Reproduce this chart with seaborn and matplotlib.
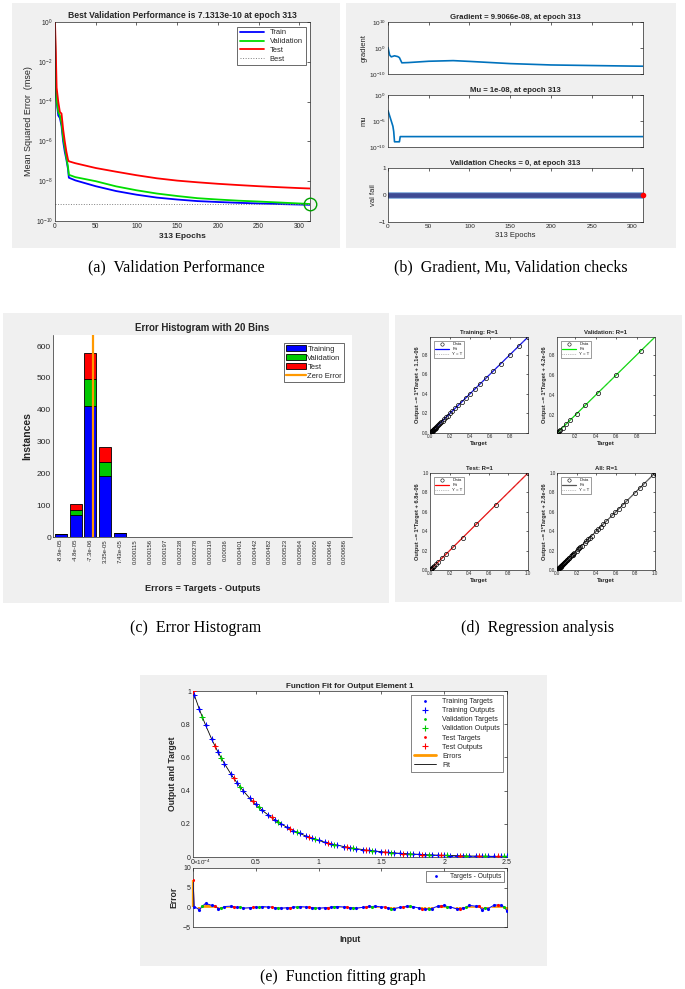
import numpy as np
import matplotlib
matplotlib.use("Agg")
import matplotlib.pyplot as plt
from matplotlib.lines import Line2D
from matplotlib.patches import Patch
from matplotlib.ticker import MultipleLocator, NullLocator
import seaborn as sns

W, H = 685, 989

# (a) training performance (mse per epoch)
perf_epochs = [0, 1, 2, 4, 6, 8, 10, 12, 14, 16, 17, 25, 50, 75, 100, 125,
               150, 175, 200, 225, 250, 275, 300, 313]
perf_train = [0.3, 3e-4, 1e-4, 2e-5, 1.5e-5, 6e-6, 1e-6, 3e-7, 1.2e-7, 4e-8, 1.5e-8,
              1.1e-8, 5.6e-9, 3.2e-9, 2.1e-9, 1.5e-9, 1.2e-9, 1.0e-9, 9e-10,
              8.2e-10, 7.6e-10, 7.1e-10, 6.7e-10, 6.5e-10]
perf_val = [0.5, 5e-4, 1.2e-4, 3e-5, 2e-5, 8e-6, 1.5e-6, 5e-7, 1.5e-7, 5e-8, 2.1e-8,
            1.6e-8, 1e-8, 5.5e-9, 3.5e-9, 2.4e-9, 1.8e-9, 1.4e-9, 1.2e-9,
            1.05e-9, 9.5e-10, 8.5e-10, 7.6e-10, 7.1313e-10]
perf_test = [1.0, 3e-2, 5e-4, 1e-4, 3e-5, 2.5e-5, 4e-6, 1e-6, 3e-7, 1.2e-7, 1e-7,
             8e-8, 4.6e-8, 3e-8, 2e-8, 1.4e-8, 1.07e-8, 8.8e-9, 7.4e-9, 6.4e-9,
             5.6e-9, 5e-9, 4.5e-9, 4.3e-9]
best_epoch = 313
best_perf = 7.1313e-10

# (b) gradient, mu, validation checks
grad_epochs = [0, 2, 4, 8, 12, 14, 17, 25, 50, 80, 100, 150, 200, 250, 300, 313]
grad_vals = [1.5, 2e-3, 4e-4, 1e-3, 5e-4, 2e-4, 2e-6, 2.5e-6, 8e-6, 1.4e-5, 7e-6,
             1e-6, 3e-7, 1.8e-7, 1.1e-7, 9.9066e-8]
mu_epochs = [0, 2, 4, 6, 7, 8, 14, 15, 313]
mu_vals = [1e-3, 1e-4, 1e-5, 1e-6, 1e-7, 1e-9, 1e-9, 1e-8, 1e-8]
vf_epochs = [0, 313]
vf_vals = [0, 0]

# (c) error histogram
bin_labels = ['-8.9e-05', '-4.8e-05', '-7.3e-06', '3.35e-05', '7.43e-05', '0.000115',
              '0.000156', '0.000197', '0.000238', '0.000278', '0.000319', '0.00036',
              '0.000401', '0.000442', '0.000482', '0.000523', '0.000564', '0.000605',
              '0.000646', '0.000686']
hist_train = [9, 70, 412, 193, 13, 0, 0, 0, 0, 0, 0, 0, 0, 0, 0, 0, 0, 0, 0, 1]
hist_val = [0, 15, 85, 43, 0, 0, 0, 0, 0, 0, 0, 0, 0, 0, 0, 0, 0, 0, 0, 0]
hist_test = [0, 20, 80, 47, 0, 0, 0, 0, 0, 0, 0, 0, 0, 0, 0, 0, 0, 0, 0, 0]

# (d)/(e) inputs, targets and errors (errors in units of 1e-4)
train_x = [0.01, 0.05, 0.10, 0.15, 0.20, 0.25, 0.30, 0.35, 0.40, 0.45, 0.50, 0.55,
           0.60, 0.65, 0.70, 0.75, 0.80, 0.85, 0.90, 0.95, 1.00, 1.05, 1.10, 1.15,
           1.20, 1.25, 1.30, 1.35, 1.40, 1.45, 1.50, 1.55, 1.60, 1.65, 1.70, 1.75,
           1.80, 1.85, 1.90, 1.95, 2.00, 2.05, 2.10, 2.15, 2.20, 2.25, 2.30, 2.35,
           2.40, 2.45, 2.50]
train_t = [0.977, 0.891, 0.795, 0.708, 0.631, 0.563, 0.502, 0.447, 0.399, 0.355,
           0.317, 0.282, 0.252, 0.224, 0.200, 0.178, 0.159, 0.142, 0.126, 0.112,
           0.100, 0.089, 0.080, 0.071, 0.063, 0.056, 0.050, 0.045, 0.040, 0.036,
           0.032, 0.028, 0.025, 0.022, 0.020, 0.018, 0.016, 0.014, 0.013, 0.011,
           0.010, 0.009, 0.008, 0.007, 0.006, 0.0056, 0.005, 0.0045, 0.004, 0.0036,
           0.0032]
train_err = [0.2, -0.6, 1.0, 0.5, -0.3, 0.2, 0.3, 0.0, -0.2, -0.1, 0.1, 0.2, 0.1,
             -0.1, -0.2, -0.1, 0.1, 0.2, 0.1, -0.1, -0.2, -0.1, 0.1, 0.2, 0.1, -0.1,
             -0.2, 0.0, 0.3, 0.3, 0.1, -0.2, -0.3, 0.0, 0.3, 0.2, -0.2, -0.5, -0.3,
             0.3, 0.5, 0.1, -0.4, -0.2, 0.5, 0.3, -0.6, -0.3, 0.6, 0.5, -0.9]
val_x = [0.075, 0.225, 0.375, 0.525, 0.675, 0.825, 0.975, 1.125, 1.275, 1.425,
         1.575, 1.725, 1.875, 2.025, 2.175, 2.325, 2.475]
val_t = [0.842, 0.596, 0.422, 0.299, 0.212, 0.150, 0.106, 0.075, 0.053, 0.038,
         0.027, 0.019, 0.013, 0.0095, 0.0067, 0.0048, 0.0034]
val_err = [0.3, -0.2, 0.1, 0.0, -0.2, 0.1, -0.1, 0.2, -0.1, 0.2, -0.3, 0.3, -0.4,
           0.2, 0.0, -0.1, 0.2]
test_x = [0.0, 0.175, 0.325, 0.475, 0.625, 0.775, 0.925, 1.075, 1.225, 1.375,
          1.525, 1.675, 1.825, 1.975, 2.125, 2.275, 2.425]
test_t = [1.000, 0.669, 0.474, 0.335, 0.238, 0.168, 0.119, 0.084, 0.060, 0.042,
          0.030, 0.021, 0.015, 0.0106, 0.0075, 0.0053, 0.0038]
test_err = [7.0, 0.4, 0.2, 0.0, 0.1, -0.1, 0.1, -0.1, 0.1, 0.1, 0.1, 0.1, -0.4,
            0.4, -0.3, 0.4, 0.6]
reg_titles = ['Training: R=1', 'Validation: R=1', 'Test: R=1', 'All: R=1']
reg_offsets = ['1.1e-06', '4.2e-06', '6.8e-06', '2.8e-06']

BLUE, GREEN, RED, ORANGE = '#0000ff', '#00c800', '#ff0000', '#ff9900'
BG = '#f0f0f0'
INK = '#262626'
MLBLUE = '#0072bd'

sns.set_style('white')
plt.rcParams['font.family'] = ['Liberation Sans', 'DejaVu Sans']
plt.rcParams['mathtext.default'] = 'regular'


def rect(l, t, r, b):
    return [l / W, 1 - b / H, (r - l) / W, (b - t) / H]


def background(fig, l, t, r, b):
    bg = fig.add_axes(rect(l, t, r, b), zorder=-5)
    bg.set_facecolor(BG)
    bg.set_xticks([])
    bg.set_yticks([])
    for s in bg.spines.values():
        s.set_visible(False)


def matlab_axes(ax, fs):
    ax.tick_params(direction='in', length=2.5, width=0.5, labelsize=fs, top=True,
                   right=True, colors=INK, pad=1.5)
    ax.tick_params(which='minor', length=0)
    for s in ax.spines.values():
        s.set_linewidth(0.5)
        s.set_color(INK)


def caption(fig, x, y, txt):
    fig.text(x / W, 1 - y / H, txt, family='Liberation Serif', fontsize=11.5,
             ha='center', va='center', color='black')


fig = plt.figure(figsize=(W / 100, H / 100), dpi=100)

# ---------------- (a) ----------------
background(fig, 12, 3, 340, 248)
ax = fig.add_axes(rect(55, 22, 310, 221))
ax.set_yscale('log')
sns.lineplot(x=perf_epochs, y=perf_train, ax=ax, color=BLUE, lw=1.3)
sns.lineplot(x=perf_epochs, y=perf_val, ax=ax, color='#00dd00', lw=1.3)
sns.lineplot(x=perf_epochs, y=perf_test, ax=ax, color=RED, lw=1.3)
ax.axhline(best_perf, ls=':', color='gray', lw=0.7)
ax.axvline(best_epoch, ls=':', color='gray', lw=0.7)
ax.plot([best_epoch], [best_perf], 'o', mfc='none', mec='#00a000', ms=9, mew=1.0,
        clip_on=False, zorder=5)
ax.set_xlim(0, 313)
ax.set_ylim(1e-10, 1)
ax.set_yticks([1e-10, 1e-8, 1e-6, 1e-4, 1e-2, 1])
ax.yaxis.set_minor_locator(NullLocator())
ax.set_xticks(range(0, 301, 50))
matlab_axes(ax, 4.8)
ax.set_title('Best Validation Performance is 7.1313e-10 at epoch 313',
             fontsize=6.2, fontweight='bold', pad=3)
ax.set_ylabel('Mean Squared Error  (mse)', fontsize=6.5, labelpad=2)
ax.set_xlabel('313 Epochs', fontsize=6, fontweight='bold', labelpad=2)
handles = [Line2D([], [], color=BLUE, lw=1.3), Line2D([], [], color='#00dd00', lw=1.3),
           Line2D([], [], color=RED, lw=1.3), Line2D([], [], color='gray', lw=0.7, ls=':')]
leg = ax.legend(handles, ['Train', 'Validation', 'Test', 'Best'], loc='upper right',
                fontsize=5.4, frameon=True, fancybox=False, borderaxespad=0.6,
                handlelength=3.2, labelspacing=0.2, borderpad=0.35)
leg.get_frame().set_edgecolor(INK)
leg.get_frame().set_linewidth(0.6)

# ---------------- (b) ----------------
background(fig, 346, 3, 676, 248)
ax1 = fig.add_axes(rect(388, 22, 643, 74))
ax1.set_yscale('log')
sns.lineplot(x=grad_epochs, y=grad_vals, ax=ax1, color=MLBLUE, lw=1.2)
ax1.set_ylim(1e-10, 1e10)
ax1.set_yticks([1e-10, 1, 1e10])
ax1.yaxis.set_minor_locator(NullLocator())
ax1.set_title('Gradient = 9.9066e-08, at epoch 313', fontsize=5.6, fontweight='bold', pad=2)
ax1.set_ylabel('gradient', fontsize=5.5, labelpad=1)

ax2 = fig.add_axes(rect(388, 95, 643, 147))
ax2.set_yscale('log')
sns.lineplot(x=mu_epochs, y=mu_vals, ax=ax2, color=MLBLUE, lw=1.2)
ax2.set_ylim(1e-10, 1)
ax2.set_yticks([1e-10, 1e-5, 1])
ax2.yaxis.set_minor_locator(NullLocator())
ax2.set_title('Mu = 1e-08, at epoch 313', fontsize=5.6, fontweight='bold', pad=2)
ax2.set_ylabel('mu', fontsize=5.5, labelpad=1)

ax3 = fig.add_axes(rect(388, 168, 643, 222))
sns.lineplot(x=vf_epochs, y=vf_vals, ax=ax3, color='#8fb4e0', lw=5.0)
sns.lineplot(x=vf_epochs, y=vf_vals, ax=ax3, color='#3d4a94', lw=3.4)
ax3.plot([vf_epochs[-1]], [vf_vals[-1]], 'o', color=RED, ms=3, zorder=5, clip_on=False)
ax3.set_ylim(-1, 1)
ax3.set_yticks([-1, 0, 1])
ax3.set_title('Validation Checks = 0, at epoch 313', fontsize=5.6, fontweight='bold', pad=2)
ax3.set_ylabel('val fail', fontsize=5.5, labelpad=1)
ax3.set_xlabel('313 Epochs', fontsize=5.5, labelpad=2)
for a in (ax1, ax2, ax3):
    a.set_xlim(0, 313)
    a.set_xticks(range(0, 301, 50))
    matlab_axes(a, 4.6)
ax1.set_xticklabels([])
ax2.set_xticklabels([])

# ---------------- (c) ----------------
background(fig, 3, 313, 389, 603)
ax = fig.add_axes(rect(53, 335, 352, 537))
centers = np.array([float(s) for s in bin_labels])
binw = centers[1] - centers[0]
bw = binw * 0.8
ax.bar(centers, hist_train, width=bw, color=BLUE, edgecolor='black', lw=0.6)
ax.bar(centers, hist_val, width=bw, bottom=hist_train, color=GREEN, edgecolor='black', lw=0.6)
ax.bar(centers, hist_test, width=bw, bottom=np.add(hist_train, hist_val), color=RED,
       edgecolor='black', lw=0.6)
ax.axvline(0, color=ORANGE, lw=1.6)
ax.set_xlim(centers[0] - binw / 2, centers[-1] + binw / 2)
ax.set_ylim(0, 635)
ax.set_xticks(centers)
ax.set_xticklabels(bin_labels, rotation=90)
ax.set_yticks(range(0, 601, 100))
matlab_axes(ax, 6)
ax.tick_params(top=False, right=False)
ax.tick_params(axis='x', labelsize=4.3)
ax.spines['top'].set_visible(False)
ax.spines['right'].set_visible(False)
ax.set_title('Error Histogram with 20 Bins', fontsize=7, fontweight='bold', pad=3)
ax.set_ylabel('Instances', fontsize=7.5, fontweight='bold', labelpad=3)
ax.set_xlabel('Errors = Targets - Outputs', fontsize=6.7, fontweight='bold')
ax.xaxis.set_label_coords(0.5, -0.235)
handles = [Patch(fc=BLUE, ec='black', lw=0.6), Patch(fc=GREEN, ec='black', lw=0.6),
           Patch(fc=RED, ec='black', lw=0.6), Line2D([], [], color=ORANGE, lw=1.6)]
leg = ax.legend(handles, ['Training', 'Validation', 'Test', 'Zero Error'],
                loc='upper right', fontsize=5.5, fancybox=False, borderaxespad=1.0,
                handlelength=2.6, handleheight=0.9, labelspacing=0.15, borderpad=0.3,
                handletextpad=0.2)
leg.get_frame().set_edgecolor(INK)
leg.get_frame().set_linewidth(0.6)

# ---------------- (d) ----------------
background(fig, 395, 315, 682, 602)
train_o = np.array(train_t) - np.array(train_err) * 1e-4
val_o = np.array(val_t) - np.array(val_err) * 1e-4
test_o = np.array(test_t) - np.array(test_err) * 1e-4
sets_t = [np.array(train_t), np.array(val_t), np.array(test_t),
          np.concatenate([train_t, val_t, test_t])]
sets_o = [train_o, val_o, test_o, np.concatenate([train_o, val_o, test_o])]
fit_colors = [BLUE, '#00ee00', RED, '#555555']
reg_rects = [(430, 337, 528, 433), (557, 337, 655, 433),
             (430, 473, 528, 570), (557, 473, 655, 570)]
reg_lims = [(0, 0.98), (0.02, 0.98), (0, 1), (0, 1)]
for i in range(4):
    ax = fig.add_axes(rect(*reg_rects[i]))
    t, o = sets_t[i], sets_o[i]
    lo, hi = reg_lims[i]
    ax.plot(t, o, 'o', mfc='none', mec='black', ms=3, mew=0.5, zorder=3)
    slope, icpt = np.polyfit(t, o, 1)
    sns.lineplot(x=[lo, hi], y=[slope * lo + icpt, slope * hi + icpt], ax=ax,
                 color=fit_colors[i], lw=0.9)
    ax.plot([lo, hi], [lo, hi], ls=':', color='gray', lw=0.5)
    ax.set_xlim(lo, hi)
    ax.set_ylim(lo, hi)
    ax.xaxis.set_major_locator(MultipleLocator(0.2))
    ax.yaxis.set_major_locator(MultipleLocator(0.2))
    matlab_axes(ax, 3.3)
    ax.tick_params(length=1.5, pad=1)
    ax.set_title(reg_titles[i], fontsize=4.3, fontweight='bold', pad=2)
    ax.set_xlabel('Target', fontsize=4.3, fontweight='bold', labelpad=1.5)
    ax.set_ylabel('Output ~= 1*Target + ' + reg_offsets[i], fontsize=4.1,
                  fontweight='bold', labelpad=1.5)
    handles = [Line2D([], [], ls='none', marker='o', mfc='none', mec='black', ms=2.4, mew=0.4),
               Line2D([], [], color=fit_colors[i], lw=0.9),
               Line2D([], [], color='gray', lw=0.5, ls=':')]
    leg = ax.legend(handles, ['Data', 'Fit', 'Y = T'], loc='upper left', fontsize=3.2,
                    fancybox=False, borderaxespad=0.8, handlelength=3.0,
                    labelspacing=0.2, borderpad=0.4)
    leg.get_frame().set_edgecolor(INK)
    leg.get_frame().set_linewidth(0.4)

# ---------------- (e) ----------------
background(fig, 140, 675, 547, 966)
ax = fig.add_axes(rect(193, 691, 507, 857))
all_x = np.concatenate([train_x, val_x, test_x])
all_o = np.concatenate([train_o, val_o, test_o])
all_e = np.concatenate([train_err, val_err, test_err])
order = np.argsort(all_x)
sns.lineplot(x=all_x[order], y=all_o[order], ax=ax, color='black', lw=0.6, sort=False)
for xs, ts, os_, c in [(train_x, train_t, train_o, BLUE), (val_x, val_t, val_o, GREEN),
                       (test_x, test_t, test_o, RED)]:
    ax.plot(xs, ts, '.', color=c, ms=1.8, zorder=3)
    ax.plot(xs, os_, '+', color=c, ms=4, mew=0.7, zorder=4)
ax.set_xlim(0, 2.5)
ax.set_ylim(0, 1)
ax.set_xticks([0, 0.5, 1, 1.5, 2, 2.5])
ax.set_xticklabels(['0', '0.5', '1', '1.5', '2', '2.5'])
ax.set_yticks([0, 0.2, 0.4, 0.6, 0.8, 1])
ax.set_yticklabels(['0', '0.2', '0.4', '0.6', '0.8', '1'])
matlab_axes(ax, 5)
ax.set_title('Function Fit for Output Element 1', fontsize=5.8, fontweight='bold', pad=2)
ax.set_ylabel('Output and Target', fontsize=6.2, fontweight='bold', labelpad=3)
handles = [Line2D([], [], ls='none', marker='.', color=BLUE, ms=2),
           Line2D([], [], ls='none', marker='+', color=BLUE, ms=4.5, mew=0.8),
           Line2D([], [], ls='none', marker='.', color=GREEN, ms=2),
           Line2D([], [], ls='none', marker='+', color=GREEN, ms=4.5, mew=0.8),
           Line2D([], [], ls='none', marker='.', color=RED, ms=2),
           Line2D([], [], ls='none', marker='+', color=RED, ms=4.5, mew=0.8),
           Line2D([], [], color=ORANGE, lw=2),
           Line2D([], [], color='black', lw=0.6)]
leg = ax.legend(handles, ['Training Targets', 'Training Outputs', 'Validation Targets',
                          'Validation Outputs', 'Test Targets', 'Test Outputs',
                          'Errors', 'Fit'],
                loc='upper right', fontsize=5.1, fancybox=False, borderaxespad=0.6,
                handlelength=3.2, labelspacing=0.3, borderpad=0.4)
leg.get_frame().set_edgecolor(INK)
leg.get_frame().set_linewidth(0.5)

axe = fig.add_axes(rect(193, 868, 507, 927))
axe.fill_between(all_x[order], 0, all_e[order], color=ORANGE, lw=0, zorder=1)
for xs, es in [(train_x, train_err), (val_x, val_err), (test_x, test_err)]:
    axe.vlines(xs, 0, es, color=ORANGE, lw=1.6, zorder=2, clip_on=False)
sns.lineplot(x=all_x[order], y=all_e[order], ax=axe, color=BLUE, lw=0.7, sort=False)
for xs, es, c in [(train_x, train_err, BLUE), (val_x, val_err, GREEN), (test_x, test_err, RED)]:
    axe.plot(xs, es, '.', color=c, ms=2.5, zorder=3)
axe.set_xlim(0, 2.5)
axe.set_ylim(-5, 10)
axe.set_xticks([0, 0.5, 1, 1.5, 2, 2.5])
axe.set_xticklabels([])
axe.set_yticks([-5, 0, 5, 10])
matlab_axes(axe, 5)
axe.text(0, 1.01, r'$\times10^{-4}$', transform=axe.transAxes, fontsize=4.5,
         ha='left', va='bottom', color=INK)
axe.set_ylabel('Error', fontsize=6.2, fontweight='bold', labelpad=3)
axe.set_xlabel('Input', fontsize=6.2, fontweight='bold', labelpad=4)
leg = axe.legend([Line2D([], [], ls='none', marker='.', color=BLUE, ms=2)],
                 ['Targets - Outputs'], loc='upper right', fontsize=4.8, fancybox=False,
                 borderaxespad=0.5, handlelength=2.6, borderpad=0.3)
leg.get_frame().set_edgecolor(INK)
leg.get_frame().set_linewidth(0.5)

# captions
caption(fig, 176, 267, '(a)  Validation Performance')
caption(fig, 511, 267, '(b)  Gradient, Mu, Validation checks')
caption(fig, 196, 628, '(c)  Error Histogram')
caption(fig, 538, 628, '(d)  Regression analysis')
caption(fig, 343, 977, '(e)  Function fitting graph')

fig.savefig('out.png', dpi=100, facecolor='white')
